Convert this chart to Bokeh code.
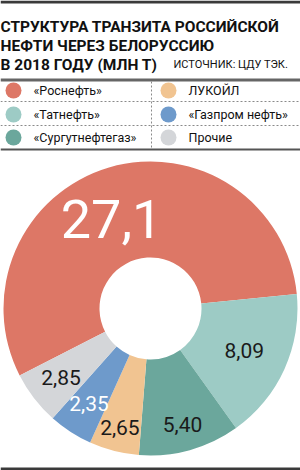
import numpy as np
from bokeh.plotting import figure
from bokeh.models import Range1d, ColumnDataSource
from bokeh.core.properties import value
from bokeh.embed import file_html
from bokeh.resources import INLINE

# ---- data ----
title_lines = ["СТРУКТУРА ТРАНЗИТА РОССИЙСКОЙ", "НЕФТИ ЧЕРЕЗ БЕЛОРУССИЮ", "В 2018 ГОДУ (МЛН Т)"]
source_text = "ИСТОЧНИК: ЦДУ ТЭК."
companies = ["«Роснефть»", "«Татнефть»", "«Сургутнефтегаз»", "ЛУКОЙЛ", "«Газпром нефть»", "Прочие"]
volumes = [27.1, 8.09, 5.40, 2.65, 2.35, 2.85]
value_labels = ["27,1", "8,09", "5,40", "2,65", "2,35", "2,85"]
colors = ["#DD7766", "#9DCBC5", "#6BA79C", "#F1C491", "#6E9ACB", "#D4D6D9"]
label_colors = ["white", "#1a1a1a", "#1a1a1a", "#1a1a1a", "white", "#1a1a1a"]

# ---- layout (pixel coordinates, y measured from top) ----
W, H = 300, 470
def Y(py):
    return H - py

FONT = "Roboto"

p = figure(width=W, height=H, output_backend="svg", toolbar_location=None,
           x_range=Range1d(0, W), y_range=Range1d(0, H), min_border=0)
p.axis.visible = False
p.grid.visible = False
p.outline_line_color = None
p.background_fill_color = "white"
p.border_fill_color = "white"

# rules
p.segment(x0=[0], y0=[Y(1.5)], x1=[W], y1=[Y(1.5)], line_color="#3a3a3a", line_width=3)
p.segment(x0=[0], y0=[Y(79.5)], x1=[W], y1=[Y(79.5)], line_color="#666666", line_width=3)
p.segment(x0=[0, 0], y0=[Y(101), Y(125)], x1=[W, W], y1=[Y(101), Y(125)],
          line_color="#8a8a8a", line_width=1, line_dash="2 2")
p.segment(x0=[151], y0=[Y(81)], x1=[151], y1=[Y(148)], line_color="#8a8a8a",
          line_width=1, line_dash="2 2")
p.segment(x0=[0], y0=[Y(149)], x1=[W], y1=[Y(149)], line_color="#555555", line_width=2)
p.segment(x0=[0], y0=[Y(468.5)], x1=[W], y1=[Y(468.5)], line_color="#3a3a3a", line_width=3)

# title
for i, t in enumerate(title_lines):
    p.text(x=[0], y=[Y(26 + i * 19)], text=[t], text_font=value(FONT), text_font_style="bold",
           text_font_size="15.5px", text_color="#111111", text_baseline="alphabetic")
p.text(x=[173], y=[Y(64)], text=[source_text], text_font=value(FONT),
       text_font_size="11px", text_color="#111111", text_baseline="alphabetic")

# legend
leg_x = [13, 13, 13, 168, 168, 168]
leg_y = [90, 114, 137, 90, 114, 137]
p.scatter(x=leg_x, y=[Y(v) for v in leg_y], size=16, marker="circle",
          fill_color=colors, line_color=None)
p.text(x=[x + 20 for x in leg_x], y=[Y(v) for v in leg_y], text=companies,
       text_font=value(FONT), text_font_size="12.5px", text_color="#111111",
       text_baseline="middle")

# donut: first slice ends where the second begins at ~5.7 degrees, slices run clockwise
cx, cy = 150, Y(308)
vals = np.array(volumes)
total = vals.sum()
frac = np.cumsum(np.concatenate([[0], vals])) / total
a0 = np.radians(5.7) + 2 * np.pi * vals[0] / total
starts = a0 - 2 * np.pi * frac[:-1]
ends = a0 - 2 * np.pi * frac[1:]
src = ColumnDataSource(dict(start=starts, end=ends, color=colors))
p.annular_wedge(x=cx, y=cy, inner_radius=51, outer_radius=147, start_angle="start",
                end_angle="end", direction="clock", fill_color="color", line_color=None,
                source=src)

# value labels
mids = (starts + ends) / 2
label_r = [98, 103, 120, 123, 113, 113]
label_shift = [np.radians(7), 0, 0, 0, 0, 0]
sizes = ["54px", "21px", "21px", "21px", "21px", "21px"]
for i in range(len(vals)):
    ang = mids[i] + label_shift[i]
    lx = cx + label_r[i] * np.cos(ang)
    ly = cy + label_r[i] * np.sin(ang)
    p.text(x=[lx], y=[ly], text=[value_labels[i]], text_font=value(FONT),
           text_font_size=sizes[i], text_color=label_colors[i], text_align="center",
           text_baseline="middle")

open("out.html", "w").write(file_html(p, INLINE))
